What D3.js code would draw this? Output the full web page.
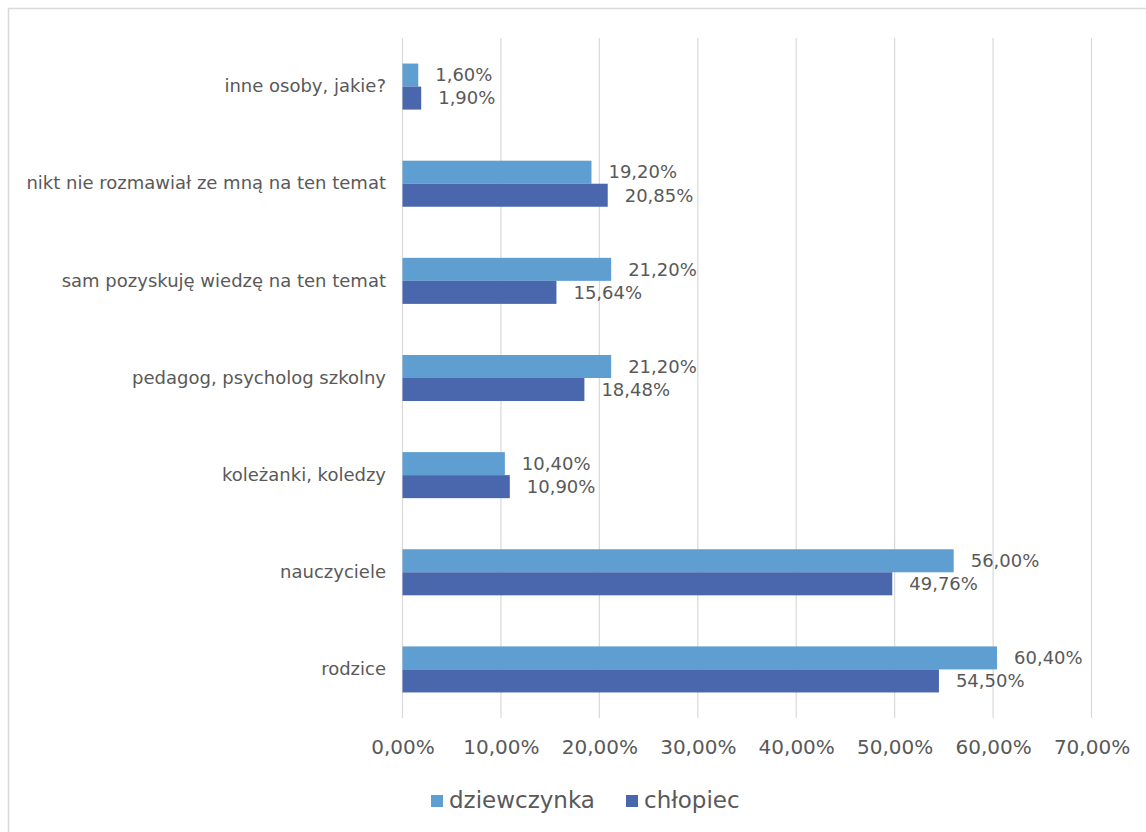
<!DOCTYPE html>
<html>
<head>
<meta charset="utf-8">
<script src="https://cdn.jsdelivr.net/npm/d3@7"></script>
<style>
  html, body { margin: 0; padding: 0; background: #fff; }
  svg { display: block; }
  text { font-family: "DejaVu Sans", sans-serif; fill: #595959; }
</style>
</head>
<body>
<svg id="chart" width="1146" height="832"></svg>
<script>
const categories = [
  "inne osoby, jakie?",
  "nikt nie rozmawiał ze mną na ten temat",
  "sam pozyskuję wiedzę na ten temat",
  "pedagog, psycholog szkolny",
  "koleżanki, koledzy",
  "nauczyciele",
  "rodzice"
];
const seriesNames = ["dziewczynka", "chłopiec"];
const dziewczynka = [1.60, 19.20, 21.20, 21.20, 10.40, 56.00, 60.40];
const chlopiec = [1.90, 20.85, 15.64, 18.48, 10.90, 49.76, 54.50];
const xTicks = [0, 10, 20, 30, 40, 50, 60, 70];
const colors = ["#5f9ed1", "#4a66ac"];

const seriesValues = [dziewczynka, chlopiec];
const fmt = v => v.toFixed(2).replace(".", ",") + "%";

const svg = d3.select("#chart");

// outer border
svg.append("rect")
  .attr("x", 8.5).attr("y", 8.5)
  .attr("width", 1160).attr("height", 840)
  .attr("fill", "none").attr("stroke", "#d9d9d9").attr("stroke-width", 1.5);

const x = d3.scaleLinear().domain([0, 70]).range([402.5, 1091.5]);
const y = d3.scaleBand().domain(categories).range([38, 718])
  .paddingInner(0.526).paddingOuter(0.263);
const ySub = d3.scaleBand().domain(seriesNames).range([0, y.bandwidth()]);

// gridlines
svg.append("g").selectAll("line").data(xTicks).join("line")
  .attr("x1", d => x(d)).attr("x2", d => x(d))
  .attr("y1", 38).attr("y2", 718)
  .attr("stroke", "#d9d9d9").attr("stroke-width", 1.2);

// x axis tick labels
const xAxis = d3.axisBottom(x).tickValues(xTicks).tickFormat(d => fmt(d)).tickSize(0);
const gx = svg.append("g").attr("transform", "translate(0,740)").call(xAxis);
gx.select(".domain").remove();
gx.selectAll("text").attr("font-size", 20).attr("dy", "0.71em").attr("y", 0)
  .style("font-family", "DejaVu Sans").attr("fill", "#595959");

// y axis labels
const yAxis = d3.axisLeft(y).tickSize(0).tickPadding(0);
const gy = svg.append("g").attr("transform", "translate(386,0)").call(yAxis);
gy.select(".domain").remove();
gy.selectAll("text").attr("font-size", 18).attr("fill", "#595959")
  .style("font-family", "DejaVu Sans");

// bars
const groups = svg.append("g").selectAll("g").data(categories).join("g")
  .attr("transform", c => `translate(0,${y(c)})`);

seriesNames.forEach((s, si) => {
  groups.append("rect")
    .attr("x", x(0))
    .attr("y", ySub(s))
    .attr("width", (c, i) => x(seriesValues[si][i]) - x(0))
    .attr("height", ySub.bandwidth())
    .attr("fill", colors[si]);
  groups.append("text")
    .attr("x", (c, i) => x(seriesValues[si][i]) + 17)
    .attr("y", ySub(s) + ySub.bandwidth() / 2)
    .attr("dy", "0.35em")
    .attr("font-size", 18)
    .text((c, i) => fmt(seriesValues[si][i]));
});

// legend
const legendX = [431, 626];
const legend = svg.append("g").selectAll("g").data(seriesNames).join("g")
  .attr("transform", (d, i) => `translate(${legendX[i]},795)`);
legend.append("rect").attr("width", 12).attr("height", 12)
  .attr("fill", (d, i) => colors[i]);
legend.append("text").attr("x", 18).attr("y", 13)
  .attr("font-size", 23).text(d => d);
</script>
</body>
</html>
